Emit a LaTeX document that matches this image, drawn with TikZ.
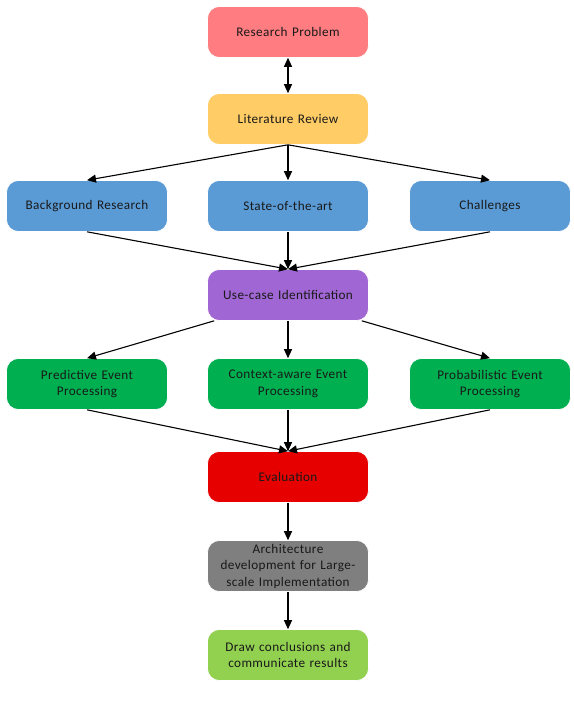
\documentclass[tikz,border=0pt]{standalone}
\usepackage{fontspec}
\setmainfont{Carlito}[LetterSpace=3]
\usetikzlibrary{arrows.meta}
\definecolor{cpink}{HTML}{FF7C80}
\definecolor{cyell}{HTML}{FFCC66}
\definecolor{cblue}{HTML}{5B9BD5}
\definecolor{cpurp}{HTML}{A066D3}
\definecolor{cgreen}{HTML}{00B050}
\definecolor{cred}{HTML}{E60000}
\definecolor{cgray}{HTML}{7F7F7F}
\definecolor{clgreen}{HTML}{92D050}
\tikzset{
  box/.style={rounded corners=12pt, minimum width=161pt, minimum height=51pt,
    text width=158pt, align=center, font=\fontsize{13.2}{16.5}\selectfont,
    text=black!90, inner sep=0pt, draw=white, line width=0.6pt},
  arr/.style={-{Triangle[length=9pt,width=8pt]}, line width=1.1pt},
  darr/.style={{Triangle[length=9pt,width=8pt]}-{Triangle[length=9pt,width=8pt]}, line width=1.1pt}
}
\begin{document}
\begin{tikzpicture}[x=1pt,y=-1pt]
\useasboundingbox (0,0) rectangle (573,714);
\node[box, fill=cpink] (rp) at (288,32) {Research Problem};
\node[box, fill=cyell] (lr) at (288,119) {Literature Review};
\node[box, fill=cblue] (bg) at (87,206) {Background Research};
\node[box, fill=cblue] (sa) at (288,206) {State-of-the-art};
\node[box, fill=cblue] (ch) at (490,206) {Challenges};
\node[box, fill=cpurp] (uc) at (288,295) {Use-case Identification};
\node[box, fill=cgreen] (pe) at (87,384) {Predictive Event\\Processing};
\node[box, fill=cgreen] (ce) at (288,384) {Context-aware Event\\Processing};
\node[box, fill=cgreen] (pb) at (490,384) {Probabilistic Event\\Processing};
\node[box, fill=cred] (ev) at (288,477) {Evaluation};
\node[box, fill=cgray] (ar) at (288,566) {Architecture\\development for Large-\\scale Implementation};
\node[box, fill=clgreen] (dc) at (288,655) {Draw conclusions and\\communicate results};

\coordinate (ucl) at ([xshift=7pt]uc.south west);
\coordinate (ucr) at ([xshift=-7pt]uc.south east);

\draw[darr] (rp.south) -- (lr.north);
\draw[arr] (lr.south) -- (bg.north);
\draw[arr] (lr.south) -- (sa.north);
\draw[arr] (lr.south) -- (ch.north);
\draw[arr] (bg.south) -- (uc.north);
\draw[arr] (sa.south) -- (uc.north);
\draw[arr] (ch.south) -- (uc.north);
\draw[arr] (ucl) -- (pe.north);
\draw[arr] (uc.south) -- (ce.north);
\draw[arr] (ucr) -- (pb.north);
\draw[arr] (pe.south) -- (ev.north);
\draw[arr] (ce.south) -- (ev.north);
\draw[arr] (pb.south) -- (ev.north);
\draw[arr] (ev.south) -- (ar.north);
\draw[arr] (ar.south) -- (dc.north);
\end{tikzpicture}
\end{document}
